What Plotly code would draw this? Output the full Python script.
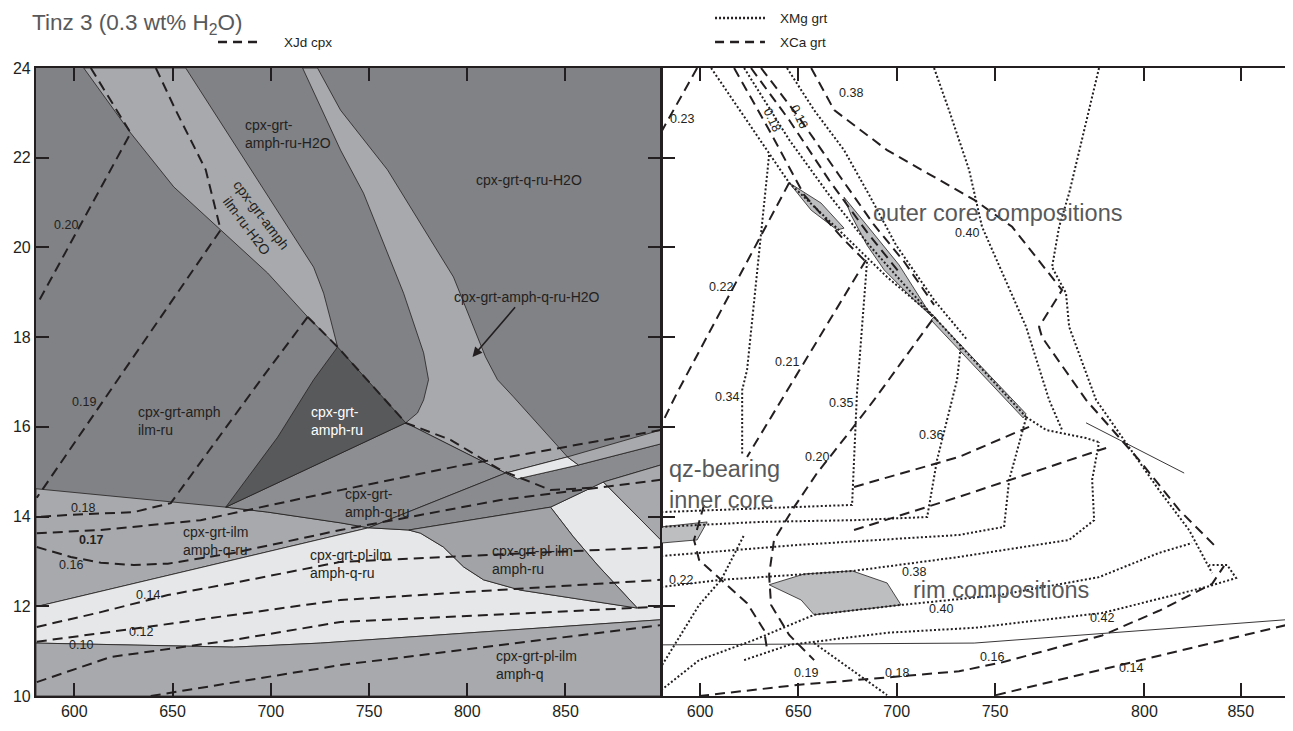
import plotly.graph_objects as go

# ---------------- axes ----------------
T_RANGE = [580.5, 898.5]
P_RANGE = [10, 24]
T_TICKS = [600, 650, 700, 750, 800, 850]
R_TICKVALS = [600, 650, 700, 750, 826, 875]
R_TICKTEXT = ["600", "650", "700", "750", "800", "850"]

# ---------------- left panel: phase fields (T, P) ----------------
bg_T = [580.5, 898.5, 898.5, 580.5]
bg_P = [10, 10, 24, 24]
band1_T = [604.8, 628.7, 650.6, 674.5, 698.4, 718.8, 734.0, 730.5, 726.9, 721.8, 656.7]
band1_P = [24.0, 22.55, 21.35, 20.39, 19.43, 18.45, 17.78, 18.38, 18.98, 19.56, 24.0]
band2_T = [716.2, 723.8, 735.5, 759.4, 793.0, 809.3, 815.4, 823.5, 851.0, 819.5, 768.7, 774.7, 777.8, 780.3, 777.8, 767.6, 747.2, 735.5]
band2_P = [24.0, 24.0, 23.06, 21.73, 19.34, 17.56, 17.05, 16.67, 15.33, 14.97, 16.09, 16.31, 16.60, 17.05, 17.65, 18.98, 21.21, 22.17]
dark_T = [734.0, 768.7, 677.1, 703.5, 721.8]
dark_P = [17.78, 16.09, 14.21, 15.77, 17.05]
amphqru_T = [677.1, 768.7, 819.5, 749.8, 735.5, 698.4]
amphqru_P = [14.21, 16.09, 14.97, 13.75, 13.86, 14.10]
wedge_T = [749.8, 819.5, 825.6, 856.6, 898.5, 898.5, 869.3, 842.4, 770.2]
wedge_P = [13.75, 14.97, 14.84, 15.15, 15.62, 15.15, 14.77, 14.21, 13.70]
strip_T = [819.5, 851.0, 856.6, 825.6]
strip_P = [14.97, 15.33, 15.15, 14.84]
bandr_T = [851.0, 898.5, 898.5, 856.6]
bandr_P = [15.33, 15.93, 15.62, 15.15]
trir_T = [869.3, 898.5, 898.5]
trir_P = [14.77, 15.15, 13.48]
ilm_T = [580.5, 677.1, 698.4, 735.5, 749.8, 580.5]
ilm_P = [14.62, 14.21, 14.10, 13.86, 13.75, 11.99]
vl_T = [580.5, 749.8, 770.2, 776.2, 787.9, 798.1, 808.3, 827.1, 886.6, 866.3, 854.0, 842.4, 869.3, 898.5, 898.5, 725.4, 681.1, 580.5]
vl_P = [11.99, 13.75, 13.70, 13.63, 13.32, 12.88, 12.59, 12.36, 11.96, 12.92, 13.55, 14.21, 14.77, 13.48, 11.70, 11.18, 11.09, 11.18]
plru_T = [770.2, 842.4, 854.0, 866.3, 886.6, 827.1, 808.3, 798.1, 787.9, 776.2]
plru_P = [13.70, 14.21, 13.55, 12.92, 11.96, 12.36, 12.59, 12.88, 13.32, 13.63]
bot_T = [580.5, 681.1, 725.4, 898.5, 898.5, 580.5]
bot_P = [11.18, 11.09, 11.18, 11.70, 10, 10]

# ---------------- left panel: XJd cpx isopleths ----------------
jd_lines = {
    "j1": ([608.4, 628.7, 581.4], [24.0, 22.55, 18.76]),
    "j2": ([641.5, 651.6, 666.9, 674.5, 622.1, 580.9], [24.0, 23.06, 21.73, 20.39, 17.05, 14.42]),
    "j3": ([718.8, 694.9, 649.1, 630.3, 598.2, 580.9], [18.45, 17.05, 14.30, 14.10, 14.04, 13.99]),
    "j3b": ([718.8, 734.0, 768.7, 791.5, 816.9, 842.4, 866.3], [18.45, 17.78, 16.09, 15.71, 15.04, 14.59, 14.65]),
    "j5": ([580.9, 613.5, 664.3, 735.5, 798.1, 898.5], [13.63, 13.70, 13.92, 14.59, 15.15, 15.93]),
    "j6": ([580.9, 598.2, 613.5, 630.3, 647.6, 681.1, 735.5, 816.9, 898.5], [13.32, 13.10, 12.97, 12.92, 12.95, 13.19, 13.70, 14.37, 14.82]),
    "j7": ([580.9, 613.5, 647.6, 681.1, 735.5, 832.2, 898.5], [11.54, 11.87, 12.25, 12.52, 12.99, 13.19, 13.32]),
    "j8": ([580.9, 633.8, 735.5, 898.5], [11.21, 11.52, 12.14, 12.59]),
    "j9": ([580.9, 618.6, 681.1, 735.5, 898.5], [10.31, 10.87, 11.25, 11.65, 11.99]),
    "j10": ([638.9, 735.5, 898.5], [10.0, 10.69, 11.58]),
}
jd_labels = [("0.20", 595.7, 20.50, False), ("0.19", 604.8, 16.56, False), ("0.18", 604.3, 14.19, False),
             ("0.17", 608.4, 13.48, True), ("0.16", 598.2, 12.92, False), ("0.14", 637.4, 12.25, False),
             ("0.12", 633.8, 11.43, False), ("0.10", 603.3, 11.14, False)]

# ---------------- right panel ----------------
inner_T = [580.2, 603.6, 598.5, 580.2]
inner_P = [13.77, 13.88, 13.48, 13.41]
rim_T = [635.1, 652.9, 677.3, 695.1, 702.2, 658.0, 651.4, 641.2]
rim_P = [12.48, 12.72, 12.79, 12.52, 12.03, 11.81, 12.14, 12.36]
sl1_T = [645.3, 661.5, 673.2, 669.7, 656.5]
sl1_P = [21.44, 20.99, 20.43, 20.39, 20.83]
sl2_T = [673.2, 684.9, 701.2, 718.0, 706.3, 693.6, 684.9, 676.8]
sl2_P = [21.12, 20.50, 19.61, 18.45, 18.94, 19.50, 20.05, 20.72]
sl3_T = [719.0, 765.8, 764.3, 717.5]
sl3_P = [18.45, 16.29, 16.20, 18.38]

xmg_lines = {
    "d1": ([605.6, 645.3, 671.7, 695.1, 719.0, 765.8], [24.0, 21.44, 20.34, 19.34, 18.45, 16.22]),
    "d2": ([622.4, 645.3, 665.6, 686.0, 706.3, 720.5], [24.0, 22.40, 21.17, 20.05, 19.05, 18.38]),
    "d3": ([644.2, 658.0, 673.2, 686.0, 699.7, 719.0, 735.8], [24.0, 23.06, 22.17, 21.17, 20.05, 18.83, 17.94]),
    "d4": ([719.0, 726.6, 736.8, 743.4, 765.8, 777.5, 784.1], [24.0, 23.06, 21.73, 20.46, 18.23, 16.60, 15.93]),
    "d5": ([802.9, 787.7, 782.6, 779.0, 786.1, 787.7, 801.4, 815.6, 833.4, 848.7, 860.4], [24.0, 21.21, 20.46, 19.56, 18.98, 18.23, 16.60, 15.71, 14.59, 13.70, 12.74]),
    "kt": ([765.8, 776.0, 796.3, 802.9], [16.22, 15.93, 15.75, 15.66]),
    "m38": ([580.2, 610.7, 678.3, 731.7, 787.7, 800.4, 799.4, 802.9], [12.43, 12.59, 12.79, 13.10, 13.48, 13.92, 14.82, 15.66]),
    "m37": ([580.2, 650.4, 731.7, 754.6, 757.2, 765.8], [13.12, 13.37, 13.59, 13.77, 14.82, 16.20]),
    "m36": ([580.2, 630.0, 678.3, 715.5, 720.5, 730.7, 732.7], [13.77, 13.88, 13.92, 13.99, 15.26, 17.05, 17.83]),
    "m35": ([684.9, 679.8, 677.3, 580.2], [19.68, 16.76, 14.26, 14.10]),
    "m34": ([635.1, 623.9, 621.4, 621.4], [22.06, 17.27, 16.82, 15.37]),
    "m40": ([580.2, 599.5, 627.5, 658.0, 702.2, 752.1, 802.9, 833.4, 850.2], [10.13, 10.80, 11.25, 11.81, 12.03, 12.25, 12.65, 13.19, 13.41]),
    "m42": ([622.4, 645.3, 695.1, 739.4, 804.5, 857.4, 872.6, 868.1, 858.9], [10.80, 11.14, 11.41, 11.52, 11.85, 12.43, 12.63, 12.92, 12.92]),
    "dg1": ([580.7, 599.5, 610.7, 622.4], [10.69, 12.03, 12.59, 13.59]),
    "dg2": ([658.0, 695.1], [11.18, 10.02]),
}
xca_lines = {
    "D23": ([598.5, 580.2], [24.0, 22.57]),
    "D22": ([645.3, 588.3, 580.2], [21.44, 16.76, 16.04]),
    "D21": ([684.4, 641.2, 623.9], [19.72, 16.60, 15.33]),
    "D20": ([718.0, 688.5, 676.8, 659.5, 647.8, 637.6, 635.1, 636.1, 645.3, 658.0], [18.38, 16.60, 15.93, 14.97, 14.21, 13.48, 12.70, 12.03, 11.36, 10.80]),
    "Dc1": ([602.0, 596.9, 599.5, 610.7, 623.9, 632.5, 634.1], [14.26, 13.48, 13.03, 12.59, 12.07, 11.47, 11.03]),
    "f1": ([617.3, 635.1, 652.9, 673.2, 685.9], [24.0, 22.62, 21.17, 20.17, 19.61]),
    "f2": ([625.9, 645.3, 665.6, 684.9, 701.2], [24.0, 22.84, 21.50, 20.34, 19.45]),
    "f3": ([631.0, 650.4, 670.7, 688.5, 703.8, 719.0], [24.0, 22.89, 21.61, 20.50, 19.68, 18.72]),
    "f4": ([656.5, 668.2, 695.1, 739.4, 758.7, 784.1, 772.4, 773.9, 796.3, 823.3, 843.6, 862.4], [24.0, 23.06, 22.17, 21.06, 20.46, 19.05, 18.23, 18.00, 16.60, 15.26, 14.15, 13.32]),
    "h1": ([678.3, 731.7, 767.3], [14.66, 15.33, 16.00]),
    "h2": ([678.3, 731.7, 806.5], [13.70, 14.44, 15.53]),
    "h3": ([599.5, 650.4, 731.7, 753.6, 804.5, 833.4, 860.4, 866.5], [10.0, 10.25, 10.55, 10.75, 11.35, 11.9, 12.5, 12.9]),
    "h4": ([750.5, 898.0], [10.02, 11.58]),
}
thin_lines = {
    "s1": ([580.2, 739.4, 898.0], [11.14, 11.18, 11.70]),
    "s2": ([796.3, 846.2], [16.09, 14.97]),
}
r_labels = [("0.23", 590.8, 22.86, 0), ("0.18", 636.6, 22.84, 65), ("0.16", 650.4, 22.91, 65),
            ("0.38", 676.8, 23.44, 0), ("0.22", 610.7, 19.12, 0), ("0.21", 644.2, 17.45, 0),
            ("0.34", 613.7, 16.67, 0), ("0.35", 671.7, 16.53, 0), ("0.40", 735.8, 20.32, 0),
            ("0.36", 717.5, 15.82, 0), ("0.20", 659.5, 15.33, 0), ("0.22", 590.3, 12.59, 0),
            ("0.38", 708.8, 12.77, 0), ("0.40", 722.6, 11.94, 0), ("0.42", 804.5, 11.74, 0),
            ("0.19", 653.9, 10.51, 0), ("0.18", 700.2, 10.51, 0), ("0.16", 748.5, 10.87, 0),
            ("0.14", 819.2, 10.63, 0)]

# ---------------- colours ----------------
C_MAIN = "#808285"
C_LIGHT = "#A7A9AC"
C_DARK = "#58595B"
C_VLIGHT = "#E6E7E8"
C_MED = "#8C8E91"
C_PLRU = "#A1A3A6"
C_INK = "#231F20"
C_SLIVER = "#BCBEC0"

fig = go.Figure()


def poly(xs, ys, color, xa="x", ya="y", lw=0.8):
    fig.add_trace(go.Scatter(x=xs + [xs[0]], y=ys + [ys[0]], fill="toself", fillcolor=color,
                             mode="lines", line=dict(color=C_INK, width=lw),
                             xaxis=xa, yaxis=ya, hoverinfo="skip", showlegend=False))


def line(xs, ys, dash, xa="x", ya="y", width=2.0, color=C_INK):
    fig.add_trace(go.Scatter(x=xs, y=ys, mode="lines", line=dict(color=color, width=width, dash=dash),
                             xaxis=xa, yaxis=ya, hoverinfo="skip", showlegend=False))


# left panel fields
poly(bg_T, bg_P, C_MAIN, lw=0)
poly(band1_T, band1_P, C_LIGHT)
poly(band2_T, band2_P, C_LIGHT)
poly(ilm_T, ilm_P, C_LIGHT)
poly(vl_T, vl_P, C_VLIGHT)
poly(bot_T, bot_P, C_LIGHT)
poly(amphqru_T, amphqru_P, C_MED)
poly(wedge_T, wedge_P, "#898B8E")
poly(plru_T, plru_P, C_PLRU)
poly(strip_T, strip_P, C_VLIGHT)
poly(bandr_T, bandr_P, C_LIGHT)
poly(trir_T, trir_P, C_LIGHT)
poly(dark_T, dark_P, C_DARK)

DASH = "10px,6px"
DOT = "2px,2.2px"
for k, (xs, ys) in jd_lines.items():
    line(xs, ys, DASH)

# right panel
poly(inner_T, inner_P, C_SLIVER, "x2", "y2")
poly(rim_T, rim_P, C_SLIVER, "x2", "y2")
poly(sl1_T, sl1_P, C_SLIVER, "x2", "y2")
poly(sl2_T, sl2_P, C_SLIVER, "x2", "y2")
poly(sl3_T, sl3_P, C_SLIVER, "x2", "y2")
for k, (xs, ys) in thin_lines.items():
    line(xs, ys, "solid", "x2", "y2", width=0.9)
for k, (xs, ys) in xmg_lines.items():
    line(xs, ys, DOT, "x2", "y2", width=2.0)
for k, (xs, ys) in xca_lines.items():
    line(xs, ys, DASH, "x2", "y2", width=2.0)

FONT = "Liberation Sans, Arial, sans-serif"
ann = []
LBL = dict(family=FONT, size=12.5, color=C_INK)
for txt, t, p, bold in jd_labels:
    ann.append(dict(x=t, y=p, xref="x", yref="y", text=("<b>%s</b>" % txt) if bold else txt,
                    showarrow=False, font=LBL))
for txt, t, p, rot in r_labels:
    ann.append(dict(x=t, y=p, xref="x2", yref="y2", text=txt, showarrow=False, font=LBL, textangle=rot))

fields = [
    ("cpx-grt-<br>amph-ru-H2O", 685.8, 22.53, "left", C_INK),
    ("cpx-grt-q-ru-H2O", 831.5, 21.50, "center", C_INK),
    ("cpx-grt-amph-q-ru-H2O", 830.5, 18.90, "center", C_INK),
    ("cpx-grt-amph<br>ilm-ru", 631.3, 16.13, "left", C_INK),
    ("cpx-grt-<br>amph-ru", 719.4, 16.13, "left", "#FFFFFF"),
    ("cpx-grt-<br>amph-q-ru", 737.0, 14.30, "left", C_INK),
    ("cpx-grt-ilm<br>amph-q-ru", 654.2, 13.46, "left", C_INK),
    ("cpx-grt-pl-ilm<br>amph-q-ru", 718.8, 12.94, "left", C_INK),
    ("cpx-grt-pl-ilm<br>amph-ru", 811.8, 13.03, "left", C_INK),
    ("cpx-grt-pl-ilm<br>amph-q", 813.4, 10.69, "left", C_INK),
]
for txt, t, p, al, col in fields:
    ann.append(dict(x=t, y=p, xref="x", yref="y", text=txt, showarrow=False, align="left",
                    xanchor=al, font=dict(family=FONT, size=14, color=col)))
ann.append(dict(x=691.4, y=20.61, xref="x", yref="y", text="cpx-grt-amph<br>ilm-ru-H2O", showarrow=False,
                textangle=53, font=dict(family=FONT, size=14, color=C_INK)))
ann.append(dict(x=802.7, y=17.56, ax=825.0, ay=18.70, xref="x", yref="y", axref="x", ayref="y", text="",
                showarrow=True, arrowhead=2, arrowsize=1.2, arrowwidth=1.6, arrowcolor=C_INK))

BIG = dict(family=FONT, size=23.5, color="#58595B")
ann.append(dict(x=687.0, y=20.77, xref="x2", yref="y2", text="outer core compositions", showarrow=False,
                xanchor="left", font=BIG))
ann.append(dict(x=583.2, y=14.71, xref="x2", yref="y2", text="qz-bearing<br>inner core", showarrow=False,
                xanchor="left", align="left", font=BIG))
ann.append(dict(x=707.3, y=12.36, xref="x2", yref="y2", text="rim compositions", showarrow=False,
                xanchor="left", font=BIG))

# title and legend keys (paper space)
ann.append(dict(x=-0.005, y=1.0955, xref="paper", yref="paper", xanchor="left", yanchor="top",
                text="Tinz 3 (0.3 wt% H<sub>2</sub>O)",
                showarrow=False, font=dict(family=FONT, size=22.5, color="#58595B")))
KEY = dict(family=FONT, size=13.5, color=C_INK)
ann.append(dict(x=0.197, y=1.0414, xref="paper", yref="paper", xanchor="left", yanchor="middle", text="XJd cpx", showarrow=False, font=KEY))
ann.append(dict(x=0.593, y=1.0796, xref="paper", yref="paper", xanchor="left", yanchor="middle", text="XMg grt", showarrow=False, font=KEY))
ann.append(dict(x=0.593, y=1.0414, xref="paper", yref="paper", xanchor="left", yanchor="middle", text="XCa grt", showarrow=False, font=KEY))
shapes = [
    dict(type="line", xref="paper", yref="paper", x0=0.1455, x1=0.1807, y0=1.0414, y1=1.0414,
         line=dict(color=C_INK, width=2.5, dash="9px,6px")),
    dict(type="line", xref="paper", yref="paper", x0=0.5428, x1=0.5827, y0=1.0796, y1=1.0796,
         line=dict(color=C_INK, width=2.5, dash="2px,2px")),
    dict(type="line", xref="paper", yref="paper", x0=0.5428, x1=0.5827, y0=1.0414, y1=1.0414,
         line=dict(color=C_INK, width=2.5, dash="9px,6px")),
]

TICKF = dict(family=FONT, size=16, color=C_INK)
ax_common = dict(ticks="inside", ticklen=13, tickwidth=2.2, tickcolor=C_INK, showline=True, linewidth=2.2,
                 linecolor=C_INK, showgrid=False, zeroline=False, tickfont=TICKF, automargin=False)
# the page body adds an 8px offset, so the figure is 8px smaller with margins reduced accordingly
fig.update_layout(
    width=1285, height=723,
    margin=dict(l=28, r=6, t=60, b=35, autoexpand=False),
    paper_bgcolor="white", plot_bgcolor="white",
    xaxis=dict(domain=[0, 0.4994], range=T_RANGE, tickvals=T_TICKS, mirror="ticks", anchor="y", **ax_common),
    yaxis=dict(domain=[0, 1], range=P_RANGE, dtick=2, mirror="ticks", anchor="x", **ax_common),
    xaxis2=dict(domain=[0.5002, 1], range=T_RANGE, tickvals=R_TICKVALS, ticktext=R_TICKTEXT, mirror="ticks",
                anchor="y2", **ax_common),
    yaxis2=dict(domain=[0, 1], range=P_RANGE, dtick=2, mirror=True, anchor="x2", showticklabels=False, **ax_common),
    annotations=ann, shapes=shapes, showlegend=False,
)
fig.write_html("out.html")
